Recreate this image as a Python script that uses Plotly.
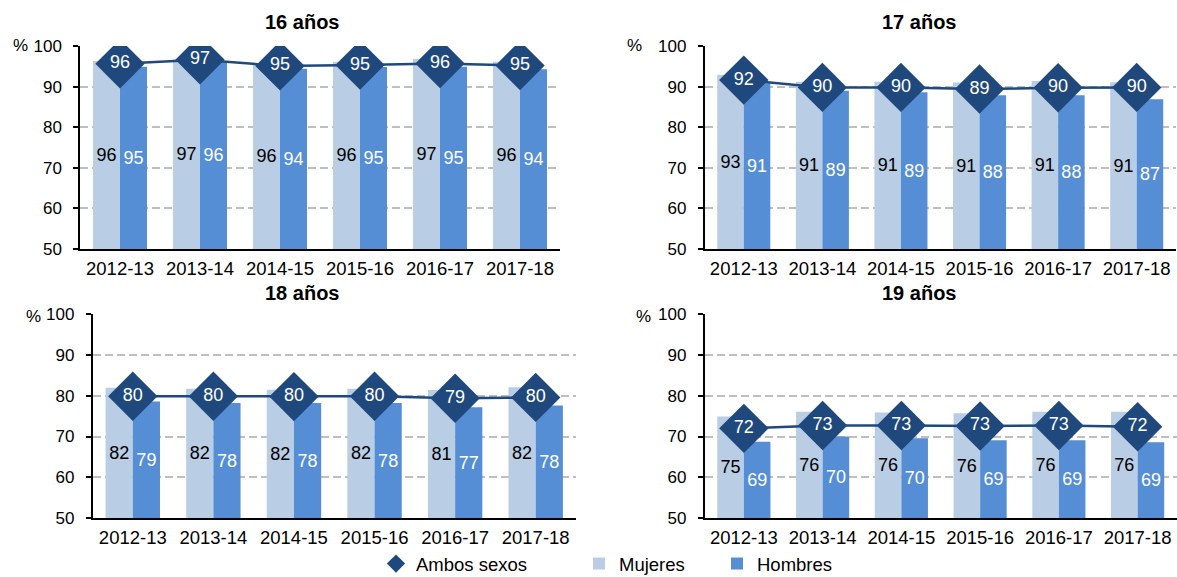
import plotly.graph_objects as go

# ---------------- data ----------------
cursos = ["2012-13", "2013-14", "2014-15", "2015-16", "2016-17", "2017-18"]
titulos = ["16 años", "17 años", "18 años", "19 años"]

ambos_16 = [95.6, 96.6, 95.1, 95.3, 95.7, 95.2]
mujeres_16 = [96.3, 96.7, 95.8, 96.1, 96.8, 96.1]
hombres_16 = [94.9, 96.1, 94.4, 94.8, 94.9, 94.3]

ambos_17 = [91.6, 89.8, 89.8, 89.4, 89.7, 89.8]
mujeres_17 = [92.9, 91.2, 91.2, 91.0, 91.4, 91.1]
hombres_17 = [90.8, 89.0, 88.6, 87.9, 87.9, 86.9]

ambos_18 = [79.9, 79.9, 79.8, 79.9, 79.4, 79.6]
mujeres_18 = [82.0, 81.7, 81.5, 81.7, 81.4, 82.1]
hombres_18 = [78.6, 78.2, 78.2, 78.2, 77.2, 77.6]

ambos_19 = [72.0, 72.7, 72.7, 72.6, 72.7, 72.4]
mujeres_19 = [74.9, 76.1, 75.9, 75.7, 76.1, 76.1]
hombres_19 = [68.7, 70.0, 69.6, 69.1, 69.1, 68.6]

y_min, y_max = 50, 100

# ---------------- style ----------------
W, H = 1177, 577
FONT = "Liberation Sans, Arial, sans-serif"
C_MUJ = "#B9CDE5"
C_HOM = "#558ED5"
C_AMB = "#1F497D"

panels = [
    (ambos_16, mujeres_16, hombres_16),
    (ambos_17, mujeres_17, hombres_17),
    (ambos_18, mujeres_18, hombres_18),
    (ambos_19, mujeres_19, hombres_19),
]

# pixel boxes of the four plot areas: (x0, x1, ytop, ybottom)
boxes = [
    (80, 560, 46, 249),
    (704.5, 1176, 46, 249),
    (92.5, 576, 314.3, 518),
    (704.5, 1177, 314.3, 518),
]
title_pos = [(302, 22), (919.5, 22), (302, 293), (919.5, 293)]
pct_pos = [(20, 46), (634, 46), (33, 316), (643, 316)]

fig = go.Figure()
layout = dict(
    width=W, height=H,
    margin=dict(l=0, r=0, t=0, b=0, autoexpand=False),
    paper_bgcolor="white", plot_bgcolor="white",
    barmode="group", bargap=0.325, bargroupgap=0,
    font=dict(family=FONT, size=17, color="black"),
    annotations=[],
)

def lab(vals):
    return [f"{v:.0f}" for v in vals]

for i, (amb, muj, hom) in enumerate(panels):
    sfx = "" if i == 0 else str(i + 1)
    xa, ya = "x" + sfx, "y" + sfx
    first = i == 0
    fig.add_trace(go.Bar(
        x=cursos, y=[v - y_min for v in muj], base=y_min,
        marker=dict(color=C_MUJ, line=dict(width=0)),
        text=lab(muj), textposition="inside", insidetextanchor="middle",
        textangle=0, textfont=dict(color="black", size=18, family=FONT),
        name="Mujeres", showlegend=first, legend="legend2",
        xaxis=xa, yaxis=ya, hoverinfo="skip",
    ))
    fig.add_trace(go.Bar(
        x=cursos, y=[v - y_min for v in hom], base=y_min,
        marker=dict(color=C_HOM, line=dict(width=0)),
        text=lab(hom), textposition="inside", insidetextanchor="middle",
        textangle=0, textfont=dict(color="white", size=18, family=FONT),
        name="Hombres", showlegend=first, legend="legend3",
        xaxis=xa, yaxis=ya, hoverinfo="skip",
    ))
    fig.add_trace(go.Scatter(
        x=cursos, y=amb, mode="lines+markers+text",
        line=dict(color=C_AMB, width=2.5),
        marker=dict(symbol="diamond", size=38, color=C_AMB),
        text=lab(amb), textposition="middle center",
        textfont=dict(color="white", size=18, family=FONT),
        name="Ambos sexos", showlegend=False,
        xaxis=xa, yaxis=ya,
    ))

    x0, x1, yt, yb = boxes[i]
    xkey = "xaxis" + sfx
    ykey = "yaxis" + sfx
    layout[xkey] = dict(
        domain=[x0 / W, x1 / W], anchor=ya, type="category",
        range=[-0.5, len(cursos) - 0.5],
        showline=True, linecolor="black", linewidth=1.5,
        ticks="", showgrid=False, ticklabelstandoff=2,
        tickfont=dict(size=18.5, family=FONT, color="black"),
        fixedrange=True,
    )
    layout[ykey] = dict(
        domain=[(H - yb) / H, (H - yt) / H], anchor=xa,
        range=[y_min, y_max], dtick=10, tick0=50,
        showline=True, linecolor="black", linewidth=1.5,
        ticks="outside", ticklen=5, tickcolor="black", tickwidth=1.5,
        ticklabelstandoff=8,
        showgrid=True, gridcolor="#BFBFBF", gridwidth=1.5, griddash="8px,4px",
        zeroline=False,
        tickfont=dict(size=17, family=FONT, color="black"),
        fixedrange=True,
    )
    tx, ty = title_pos[i]
    layout["annotations"].append(dict(
        text="<b>" + titulos[i] + "</b>", x=tx / W, y=(H - ty) / H,
        xref="paper", yref="paper", showarrow=False,
        xanchor="center", yanchor="middle",
        font=dict(size=20, family=FONT, color="black"),
    ))
    px_, py_ = pct_pos[i]
    layout["annotations"].append(dict(
        text="%", x=px_ / W, y=(H - py_) / H,
        xref="paper", yref="paper", showarrow=False,
        xanchor="center", yanchor="middle",
        font=dict(size=17, family=FONT, color="black"),
    ))

# legend-only entry for the diamond symbol
fig.add_trace(go.Scatter(
    x=[None], y=[None], mode="markers",
    marker=dict(symbol="diamond", size=14, color=C_AMB),
    name="Ambos sexos", showlegend=True, legend="legend",
    xaxis="x", yaxis="y",
))

leg_common = dict(
    orientation="h", yanchor="middle", xanchor="left",
    bgcolor="rgba(0,0,0,0)", borderwidth=0,
    font=dict(size=18.5, family=FONT, color="black"),
    y=(H - 564) / H,
)
layout["legend"] = dict(leg_common, x=376 / W)
layout["legend2"] = dict(leg_common, x=579 / W)
layout["legend3"] = dict(leg_common, x=717 / W)

fig.update_layout(**layout)

fig.write_html(
    "out.html",
    config={"displayModeBar": False},
    post_script="document.body.style.margin='0';document.body.style.overflow='hidden';",
)
